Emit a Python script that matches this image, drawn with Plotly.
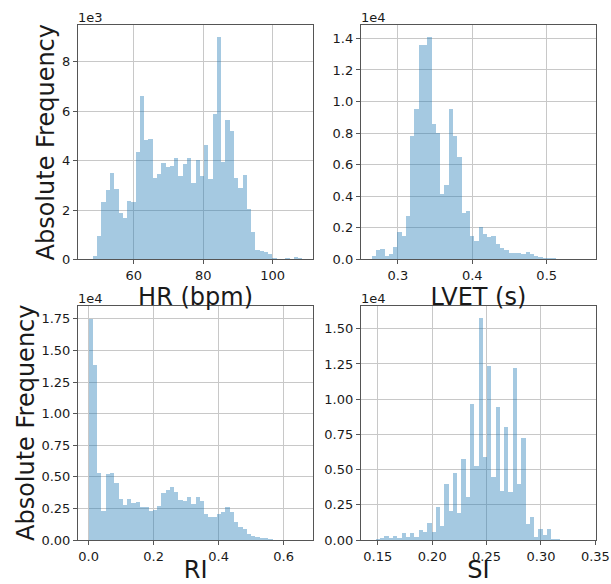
import numpy as np
import plotly.graph_objects as go
from plotly.subplots import make_subplots

# ---- data (histogram counts, 50 bins each) ----
hr_start, hr_width = 47.0, 1.232
hr_counts = [30, 140, 960, 2310, 2800, 3510, 2850, 1900, 1680, 2350,
             2320, 4340, 6620, 4850, 4860, 3310, 3460, 3890, 3740, 3770,
             4120, 3360, 3850, 4120, 3090, 4040, 3380, 4650, 3260, 5890,
             9010, 3960, 5640, 5200, 3280, 2890, 3420, 2030, 1110, 380,
             330, 310, 230, 40, 10, 30, 40, 30, 100, 40]

lvet_start, lvet_width = 0.2647, 0.005744
lvet_counts = [250, 610, 680, 250, 360, 780, 1710, 1480, 2770, 7800,
               9500, 13580, 13580, 14100, 8600, 8000, 4170, 4700, 9500, 7800,
               6500, 2960, 3070, 1460, 1160, 2070, 1630, 1440, 1500, 950,
               700, 590, 400, 400, 380, 360, 470, 320, 210, 150,
               110, 110, 80, 60, 40, 30, 20, 10, 10, 10]

ri_start, ri_width = 0.0, 0.01316
ri_counts = [17550, 13890, 5350, 2370, 5300, 5350, 4560, 3270, 2820, 3300,
             3000, 3030, 2660, 2640, 2320, 2400, 2690, 3740, 4000, 4200,
             3820, 3200, 3140, 3480, 2870, 3480, 3140, 2130, 1850, 1870,
             2080, 2290, 2660, 2240, 1480, 1100, 870, 500, 320, 240,
             180, 160, 110, 50, 30, 20, 10, 10, 5, 5]

si_start, si_width = 0.1442, 0.00393
si_counts = [50, 70, 170, 350, 210, 350, 210, 500, 260, 500,
             240, 730, 570, 1270, 570, 2360, 1060, 4030, 2080, 4810,
             1960, 5800, 3070, 9720, 5280, 15780, 5900, 12380, 4480, 9500,
             3490, 8070, 3440, 12260, 3990, 7310, 1180, 1650, 280, 850,
             380, 800, 90, 70, 40, 30, 20, 10, 5, 5]

panels = [
    dict(start=hr_start, width=hr_width, counts=hr_counts, scale=1e3, exp="1e3",
         xtitle="HR (bpm)", xrange=[43.94, 111.7], xdtick=20, xfmt="d",
         yrange=[0, 9.49], ydtick=2, yfmt="d"),
    dict(start=lvet_start, width=lvet_width, counts=lvet_counts, scale=1e4, exp="1e4",
         xtitle="LVET (s)", xrange=[0.2503, 0.5662], xdtick=0.1, xfmt=".1f",
         yrange=[0, 1.4845], ydtick=0.2, yfmt=".1f"),
    dict(start=ri_start, width=ri_width, counts=ri_counts, scale=1e4, exp="1e4",
         xtitle="RI", xrange=[-0.0327, 0.691], xdtick=0.2, xfmt=".1f",
         yrange=[0, 1.8555], ydtick=0.25, yfmt=".2f"),
    dict(start=si_start, width=si_width, counts=si_counts, scale=1e4, exp="1e4",
         xtitle="SI", xrange=[0.1344, 0.3506], xdtick=0.05, xfmt=".2f",
         yrange=[0, 1.665], ydtick=0.25, yfmt=".2f"),
]

FONT = "DejaVu Sans"
TXT = "#1a1a1a"
SPINE = "#555555"
GRID = "#c8c8c8"

fig = make_subplots(rows=2, cols=2, horizontal_spacing=0.092, vertical_spacing=0.0894)

for i, p in enumerate(panels):
    r, c = i // 2 + 1, i % 2 + 1
    n = len(p["counts"])
    centers = p["start"] + (np.arange(n) + 0.5) * p["width"]
    y = np.array(p["counts"], dtype=float) / p["scale"]
    fig.add_trace(go.Bar(x=centers, y=y, width=p["width"],
                         marker=dict(color="rgba(31,119,180,0.4)", line=dict(width=0)),
                         showlegend=False, hoverinfo="x+y"), row=r, col=c)
    fig.update_xaxes(range=p["xrange"], dtick=p["xdtick"], tick0=0, tickformat=p["xfmt"],
                     title=dict(text=p["xtitle"], font=dict(size=24, family=FONT, color=TXT), standoff=0),
                     row=r, col=c)
    ytitle = dict(text="Absolute Frequency", font=dict(size=24, family=FONT, color=TXT), standoff=0) if c == 1 else None
    fig.update_yaxes(range=p["yrange"], dtick=p["ydtick"], tick0=0, tickformat=p["yfmt"],
                     title=ytitle, row=r, col=c)
    ax = "" if i == 0 else str(i + 1)
    fig.add_annotation(text=p["exp"], xref=f"x{ax} domain", yref=f"y{ax} domain",
                       x=0, y=1, xanchor="left", yanchor="bottom", showarrow=False,
                       font=dict(size=13, family=FONT, color=TXT), xshift=-2, yshift=-2)

fig.update_xaxes(showgrid=True, gridcolor=GRID, gridwidth=1, zeroline=False,
                 showline=True, linecolor=SPINE, linewidth=1, mirror=True,
                 ticks="outside", ticklen=4, tickcolor=SPINE, automargin=False,
                 tickfont=dict(size=13, family=FONT, color=TXT))
fig.update_yaxes(showgrid=True, gridcolor=GRID, gridwidth=1, zeroline=False,
                 showline=True, linecolor=SPINE, linewidth=1, mirror=True,
                 ticks="outside", ticklen=4, tickcolor=SPINE, automargin=False,
                 tickfont=dict(size=13, family=FONT, color=TXT))

fig.update_layout(width=611, height=584, margin=dict(l=77.5, r=15, t=25, b=44.3),
                  paper_bgcolor="white", plot_bgcolor="white", bargap=0,
                  font=dict(family=FONT, color=TXT))

fig.write_html("out.html")
